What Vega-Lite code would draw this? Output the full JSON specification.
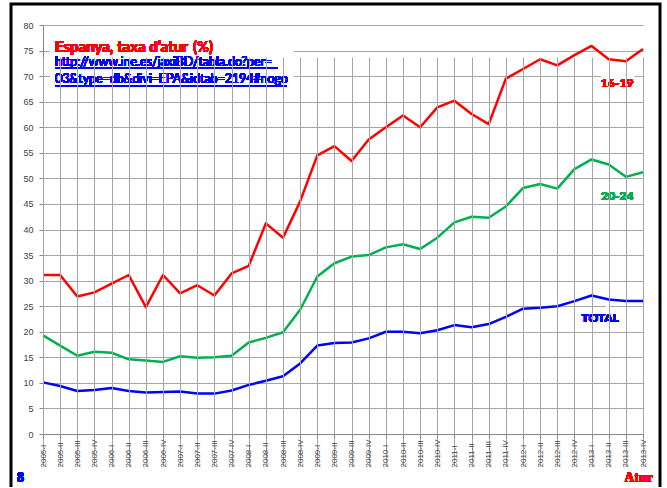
{
  "$schema": "https://vega.github.io/schema/vega-lite/v6.json",
  "width": 649,
  "height": 483,
  "autosize": {"type": "none"},
  "padding": {"left": 11, "top": 4, "right": 7, "bottom": 1},
  "background": "white",
  "config": {
    "view": {"stroke": "black", "strokeWidth": 3, "strokeDash": [1132, 649, 520]},
    "axis": {"domainColor": "#868686", "tickColor": "#868686", "gridColor": "#a6a6a6", "gridWidth": 1, "labelColor": "#404040", "labelFont": "Liberation Sans", "title": null}
  },
  "data": {"values": [
    {"q": "2005-I", "s": "16-19", "v": 31.1}, {"q": "2005-II", "s": "16-19", "v": 31.1}, {"q": "2005-III", "s": "16-19", "v": 26.9}, {"q": "2005-IV", "s": "16-19", "v": 27.7},
    {"q": "2006-I", "s": "16-19", "v": 29.4}, {"q": "2006-II", "s": "16-19", "v": 31.1}, {"q": "2006-III", "s": "16-19", "v": 24.8}, {"q": "2006-IV", "s": "16-19", "v": 31.1},
    {"q": "2007-I", "s": "16-19", "v": 27.5}, {"q": "2007-II", "s": "16-19", "v": 29.1}, {"q": "2007-III", "s": "16-19", "v": 27.1}, {"q": "2007-IV", "s": "16-19", "v": 31.4},
    {"q": "2008-I", "s": "16-19", "v": 32.9}, {"q": "2008-II", "s": "16-19", "v": 41.2}, {"q": "2008-III", "s": "16-19", "v": 38.4}, {"q": "2008-IV", "s": "16-19", "v": 45.5},
    {"q": "2009-I", "s": "16-19", "v": 54.5}, {"q": "2009-II", "s": "16-19", "v": 56.3}, {"q": "2009-III", "s": "16-19", "v": 53.4}, {"q": "2009-IV", "s": "16-19", "v": 57.6},
    {"q": "2010-I", "s": "16-19", "v": 60.0}, {"q": "2010-II", "s": "16-19", "v": 62.3}, {"q": "2010-III", "s": "16-19", "v": 60.0}, {"q": "2010-IV", "s": "16-19", "v": 63.9},
    {"q": "2011-I", "s": "16-19", "v": 65.2}, {"q": "2011-II", "s": "16-19", "v": 62.6}, {"q": "2011-III", "s": "16-19", "v": 60.6}, {"q": "2011-IV", "s": "16-19", "v": 69.5},
    {"q": "2012-I", "s": "16-19", "v": 71.4}, {"q": "2012-II", "s": "16-19", "v": 73.3}, {"q": "2012-III", "s": "16-19", "v": 72.1}, {"q": "2012-IV", "s": "16-19", "v": 74.1},
    {"q": "2013-I", "s": "16-19", "v": 75.9}, {"q": "2013-II", "s": "16-19", "v": 73.3}, {"q": "2013-III", "s": "16-19", "v": 72.9}, {"q": "2013-IV", "s": "16-19", "v": 75.3},
    {"q": "2005-I", "s": "20-24", "v": 19.3}, {"q": "2005-II", "s": "20-24", "v": 17.3}, {"q": "2005-III", "s": "20-24", "v": 15.3}, {"q": "2005-IV", "s": "20-24", "v": 16.1},
    {"q": "2006-I", "s": "20-24", "v": 15.9}, {"q": "2006-II", "s": "20-24", "v": 14.6}, {"q": "2006-III", "s": "20-24", "v": 14.4}, {"q": "2006-IV", "s": "20-24", "v": 14.1},
    {"q": "2007-I", "s": "20-24", "v": 15.2}, {"q": "2007-II", "s": "20-24", "v": 14.9}, {"q": "2007-III", "s": "20-24", "v": 15.0}, {"q": "2007-IV", "s": "20-24", "v": 15.3},
    {"q": "2008-I", "s": "20-24", "v": 17.9}, {"q": "2008-II", "s": "20-24", "v": 18.8}, {"q": "2008-III", "s": "20-24", "v": 19.9}, {"q": "2008-IV", "s": "20-24", "v": 24.3},
    {"q": "2009-I", "s": "20-24", "v": 30.8}, {"q": "2009-II", "s": "20-24", "v": 33.4}, {"q": "2009-III", "s": "20-24", "v": 34.7}, {"q": "2009-IV", "s": "20-24", "v": 35.0},
    {"q": "2010-I", "s": "20-24", "v": 36.5}, {"q": "2010-II", "s": "20-24", "v": 37.1}, {"q": "2010-III", "s": "20-24", "v": 36.2}, {"q": "2010-IV", "s": "20-24", "v": 38.4},
    {"q": "2011-I", "s": "20-24", "v": 41.4}, {"q": "2011-II", "s": "20-24", "v": 42.5}, {"q": "2011-III", "s": "20-24", "v": 42.3}, {"q": "2011-IV", "s": "20-24", "v": 44.5},
    {"q": "2012-I", "s": "20-24", "v": 48.1}, {"q": "2012-II", "s": "20-24", "v": 48.9}, {"q": "2012-III", "s": "20-24", "v": 48.0}, {"q": "2012-IV", "s": "20-24", "v": 51.8},
    {"q": "2013-I", "s": "20-24", "v": 53.7}, {"q": "2013-II", "s": "20-24", "v": 52.7}, {"q": "2013-III", "s": "20-24", "v": 50.3}, {"q": "2013-IV", "s": "20-24", "v": 51.2},
    {"q": "2005-I", "s": "TOTAL", "v": 10.1}, {"q": "2005-II", "s": "TOTAL", "v": 9.4}, {"q": "2005-III", "s": "TOTAL", "v": 8.4}, {"q": "2005-IV", "s": "TOTAL", "v": 8.6},
    {"q": "2006-I", "s": "TOTAL", "v": 9.0}, {"q": "2006-II", "s": "TOTAL", "v": 8.4}, {"q": "2006-III", "s": "TOTAL", "v": 8.1}, {"q": "2006-IV", "s": "TOTAL", "v": 8.2},
    {"q": "2007-I", "s": "TOTAL", "v": 8.3}, {"q": "2007-II", "s": "TOTAL", "v": 7.9}, {"q": "2007-III", "s": "TOTAL", "v": 7.9}, {"q": "2007-IV", "s": "TOTAL", "v": 8.5},
    {"q": "2008-I", "s": "TOTAL", "v": 9.6}, {"q": "2008-II", "s": "TOTAL", "v": 10.4}, {"q": "2008-III", "s": "TOTAL", "v": 11.3}, {"q": "2008-IV", "s": "TOTAL", "v": 13.8},
    {"q": "2009-I", "s": "TOTAL", "v": 17.3}, {"q": "2009-II", "s": "TOTAL", "v": 17.8}, {"q": "2009-III", "s": "TOTAL", "v": 17.9}, {"q": "2009-IV", "s": "TOTAL", "v": 18.7},
    {"q": "2010-I", "s": "TOTAL", "v": 20.0}, {"q": "2010-II", "s": "TOTAL", "v": 20.0}, {"q": "2010-III", "s": "TOTAL", "v": 19.7}, {"q": "2010-IV", "s": "TOTAL", "v": 20.3},
    {"q": "2011-I", "s": "TOTAL", "v": 21.3}, {"q": "2011-II", "s": "TOTAL", "v": 20.9}, {"q": "2011-III", "s": "TOTAL", "v": 21.5}, {"q": "2011-IV", "s": "TOTAL", "v": 22.9},
    {"q": "2012-I", "s": "TOTAL", "v": 24.5}, {"q": "2012-II", "s": "TOTAL", "v": 24.7}, {"q": "2012-III", "s": "TOTAL", "v": 25.0}, {"q": "2012-IV", "s": "TOTAL", "v": 26.0},
    {"q": "2013-I", "s": "TOTAL", "v": 27.1}, {"q": "2013-II", "s": "TOTAL", "v": 26.3}, {"q": "2013-III", "s": "TOTAL", "v": 26.0}, {"q": "2013-IV", "s": "TOTAL", "v": 26.0}
  ]},
  "encoding": {
    "x": {
      "field": "q", "type": "ordinal",
      "scale": {
        "type": "point", "padding": 0, "range": [32, 632],
        "domain": ["2005-I","2005-II","2005-III","2005-IV","2006-I","2006-II","2006-III","2006-IV","2007-I","2007-II","2007-III","2007-IV","2008-I","2008-II","2008-III","2008-IV","2009-I","2009-II","2009-III","2009-IV","2010-I","2010-II","2010-III","2010-IV","2011-I","2011-II","2011-III","2011-IV","2012-I","2012-II","2012-III","2012-IV","2013-I","2013-II","2013-III","2013-IV"]
      },
      "axis": {"offset": -53, "grid": true, "labelAngle": -90, "labelAlign": "left", "labelBaseline": "middle", "labelPadding": 29, "tickSize": 4, "labelFontSize": 8, "labelOverlap": false}
    },
    "y": {
      "field": "v", "type": "quantitative",
      "scale": {"domain": [0, 80], "range": [430, 21], "nice": false, "zero": false},
      "axis": {"offset": -32, "grid": true, "values": [0,5,10,15,20,25,30,35,40,45,50,55,60,65,70,75,80], "tickSize": 4, "labelPadding": 6, "labelFontSize": 9}
    }
  },
  "layer": [
    {
      "mark": {"type": "rect", "fill": "white", "xOffset": 7, "x2Offset": -7},
      "encoding": {
        "x": {"datum": "2005-I", "type": "ordinal"},
        "x2": {"datum": "2008-IV"},
        "y": {"datum": 78.7, "type": "quantitative"},
        "y2": {"datum": 65.9}
      }
    },
    {
      "mark": {"type": "line", "strokeJoin": "round"},
      "encoding": {
        "color": {"field": "s", "type": "nominal", "scale": {"domain": ["16-19", "20-24", "TOTAL"], "range": ["#ff0000", "#00b050", "#0000ff"]}, "legend": null},
        "strokeWidth": {"field": "s", "type": "nominal", "scale": {"domain": ["16-19", "20-24", "TOTAL"], "range": [2.5, 2.5, 3]}, "legend": null}
      }
    },
    {
      "mark": {"type": "text", "text": "16-19", "font": "Lato", "fontWeight": "bold", "fontSize": 12, "fill": "white", "stroke": "white", "strokeWidth": 7, "align": "center", "baseline": "middle", "dx": 8.5},
      "encoding": {"x": {"datum": "2013-II", "type": "ordinal"}, "y": {"datum": 68.7, "type": "quantitative"}}
    },
    {
      "mark": {"type": "text", "text": "20-24", "font": "Lato", "fontWeight": "bold", "fontSize": 12, "fill": "white", "stroke": "white", "strokeWidth": 7, "align": "center", "baseline": "middle", "dx": 8.5},
      "encoding": {"x": {"datum": "2013-II", "type": "ordinal"}, "y": {"datum": 46.6, "type": "quantitative"}}
    },
    {
      "mark": {"type": "text", "text": "TOTAL", "font": "Lato", "fontWeight": "bold", "fontSize": 12, "fill": "white", "stroke": "white", "strokeWidth": 7, "align": "center", "baseline": "middle", "dx": 8.6},
      "encoding": {"x": {"datum": "2013-I", "type": "ordinal"}, "y": {"datum": 22.7, "type": "quantitative"}}
    },
    {
      "mark": {"type": "text", "text": "16-19", "font": "Lato", "fontWeight": "bold", "fontSize": 12, "color": "#ff0000", "align": "center", "baseline": "middle", "dx": 8.5},
      "encoding": {"x": {"datum": "2013-II", "type": "ordinal"}, "y": {"datum": 68.7, "type": "quantitative"}}
    },
    {
      "mark": {"type": "text", "text": "20-24", "font": "Lato", "fontWeight": "bold", "fontSize": 12, "color": "#00b050", "align": "center", "baseline": "middle", "dx": 8.5},
      "encoding": {"x": {"datum": "2013-II", "type": "ordinal"}, "y": {"datum": 46.6, "type": "quantitative"}}
    },
    {
      "mark": {"type": "text", "text": "TOTAL", "font": "Lato", "fontWeight": "bold", "fontSize": 12, "color": "#0000ff", "align": "center", "baseline": "middle", "dx": 8.6},
      "encoding": {"x": {"datum": "2013-I", "type": "ordinal"}, "y": {"datum": 22.7, "type": "quantitative"}}
    },
    {
      "mark": {"type": "text", "text": "Espanya, taxa d’atur", "font": "Lato", "fontWeight": "bold", "fontSize": 15, "color": "#ff0000", "align": "left", "baseline": "alphabetic", "dx": 12},
      "encoding": {"x": {"datum": "2005-I", "type": "ordinal"}, "y": {"datum": 74.76, "type": "quantitative"}}
    },
    {
      "mark": {"type": "text", "text": "(%)", "font": "Lato", "fontSize": 15, "color": "#ff0000", "align": "left", "baseline": "alphabetic", "dx": 150},
      "encoding": {"x": {"datum": "2005-I", "type": "ordinal"}, "y": {"datum": 74.76, "type": "quantitative"}}
    },
    {
      "mark": {"type": "text", "text": "http://www.ine.es/jaxiBD/tabla.do?per=", "font": "Lato", "fontSize": 12.4, "color": "#0000ff", "align": "left", "baseline": "alphabetic", "dx": 12},
      "encoding": {"x": {"datum": "2005-I", "type": "ordinal"}, "y": {"datum": 72.04, "type": "quantitative"}}
    },
    {
      "mark": {"type": "text", "text": "03&type=db&divi=EPA&idtab=2194#nogo", "font": "Lato", "fontSize": 12.4, "color": "#0000ff", "align": "left", "baseline": "alphabetic", "dx": 12},
      "encoding": {"x": {"datum": "2005-I", "type": "ordinal"}, "y": {"datum": 68.6, "type": "quantitative"}}
    },
    {
      "mark": {"type": "rule", "color": "#0000ff", "strokeWidth": 1, "xOffset": 12, "x2Offset": -5},
      "encoding": {"x": {"datum": "2005-I", "type": "ordinal"}, "x2": {"datum": "2008-III"}, "y": {"datum": 71.53, "type": "quantitative"}}
    },
    {
      "mark": {"type": "rule", "color": "#0000ff", "strokeWidth": 1, "xOffset": 12, "x2Offset": 4},
      "encoding": {"x": {"datum": "2005-I", "type": "ordinal"}, "x2": {"datum": "2008-III"}, "y": {"datum": 68.07, "type": "quantitative"}}
    },
    {
      "mark": {"type": "text", "text": "8", "font": "Liberation Serif", "fontWeight": "bold", "fontSize": 14, "color": "#0000ff", "align": "left", "baseline": "middle", "dx": -26},
      "encoding": {"x": {"datum": "2005-I", "type": "ordinal"}, "y": {"datum": -8.6, "type": "quantitative"}}
    },
    {
      "mark": {"type": "text", "text": "Atur", "font": "Liberation Serif", "fontWeight": "bold", "fontSize": 14, "color": "#ff0000", "align": "right", "baseline": "middle", "dx": 10},
      "encoding": {"x": {"datum": "2013-IV", "type": "ordinal"}, "y": {"datum": -8.6, "type": "quantitative"}}
    }
  ]
}
